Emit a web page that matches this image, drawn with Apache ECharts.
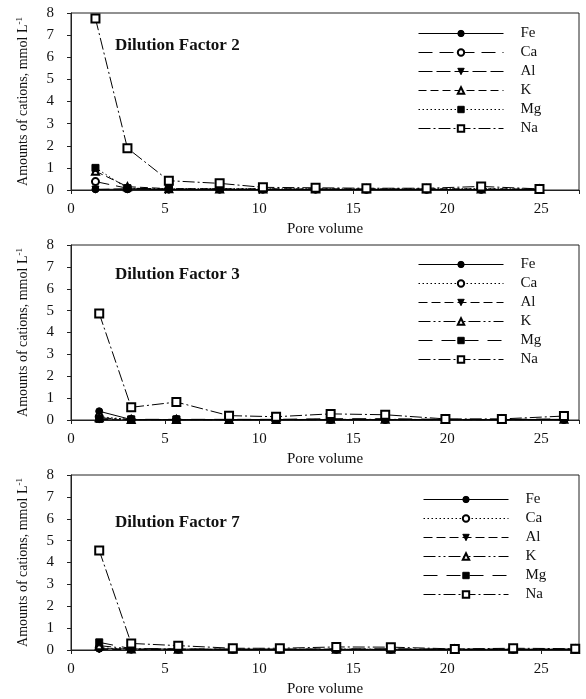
<!DOCTYPE html>
<html>
<head>
<meta charset="utf-8">
<script src="https://cdn.jsdelivr.net/npm/echarts@6/dist/echarts.min.js"></script>
<style>html,body{margin:0;padding:0;background:#fff}#c{width:586px;height:699px}</style>
</head>
<body>
<div id="c"></div>
<script>
// ---- data ----
const cations = ['Fe', 'Ca', 'Al', 'K', 'Mg', 'Na'];
const panelTitles = ['Dilution Factor 2', 'Dilution Factor 3', 'Dilution Factor 7'];
const yTicks = [0, 1, 2, 3, 4, 5, 6, 7, 8];
const xTicks = [0, 5, 10, 15, 20, 25];

const df2X  = [1.3, 3.0, 5.2, 7.9, 10.2, 13.0, 15.7, 18.9, 21.8, 24.9];
const df2Fe = [0.03, 0.03, 0.02, 0.02, 0.02, 0.02, 0.02, 0.02, 0.02, 0.02];
const df2Ca = [0.38, 0.08, 0.05, 0.04, 0.04, 0.04, 0.03, 0.03, 0.03, 0.03];
const df2Al = [0.02, 0.06, 0.03, 0.03, 0.02, 0.02, 0.02, 0.02, 0.02, 0.02];
const df2K  = [0.85, 0.15, 0.06, 0.05, 0.05, 0.05, 0.05, 0.05, 0.05, 0.04];
const df2Mg = [1.00, 0.08, 0.05, 0.06, 0.05, 0.05, 0.04, 0.05, 0.06, 0.04];
const df2Na = [7.75, 1.89, 0.42, 0.30, 0.12, 0.10, 0.08, 0.08, 0.16, 0.05];

const df3X  = [1.5, 3.2, 5.6, 8.4, 10.9, 13.8, 16.7, 19.9, 22.9, 26.2];
const df3Fe = [0.40, 0.02, 0.02, 0.02, 0.02, 0.02, 0.02, 0.02, 0.02, 0.02];
const df3Ca = [0.15, 0.02, 0.02, 0.02, 0.02, 0.02, 0.02, 0.02, 0.02, 0.02];
const df3Al = [0.02, 0.01, 0.01, 0.01, 0.01, 0.01, 0.01, 0.01, 0.01, 0.01];
const df3K  = [0.10, 0.02, 0.02, 0.02, 0.02, 0.03, 0.03, 0.02, 0.02, 0.03];
const df3Mg = [0.05, 0.03, 0.03, 0.03, 0.03, 0.06, 0.06, 0.03, 0.03, 0.05];
const df3Na = [4.87, 0.58, 0.82, 0.20, 0.15, 0.28, 0.24, 0.05, 0.05, 0.18];

const df7X  = [1.5, 3.2, 5.7, 8.6, 11.1, 14.1, 17.0, 20.4, 23.5, 26.8];
const df7Fe = [0.06, 0.05, 0.04, 0.03, 0.03, 0.03, 0.03, 0.03, 0.03, 0.03];
const df7Ca = [0.10, 0.04, 0.03, 0.03, 0.03, 0.03, 0.03, 0.03, 0.03, 0.03];
const df7Al = [0.03, 0.02, 0.02, 0.02, 0.02, 0.02, 0.02, 0.02, 0.02, 0.02];
const df7K  = [0.20, 0.05, 0.04, 0.03, 0.03, 0.04, 0.04, 0.03, 0.03, 0.03];
const df7Mg = [0.35, 0.06, 0.05, 0.04, 0.04, 0.05, 0.05, 0.04, 0.04, 0.04];
const df7Na = [4.55, 0.30, 0.20, 0.08, 0.08, 0.14, 0.13, 0.05, 0.08, 0.06];

const panels = [
  {x: df2X, vals: [df2Fe, df2Ca, df2Al, df2K, df2Mg, df2Na]},
  {x: df3X, vals: [df3Fe, df3Ca, df3Al, df3K, df3Mg, df3Na]},
  {x: df7X, vals: [df7Fe, df7Ca, df7Al, df7K, df7Mg, df7Na]}
];

// ---- styles ----
const symbols = ['circle', 'emptyCircle', 'triangle', 'emptyTriangle', 'rect', 'emptyRect'];
const rotations = [0, 0, 180, 0, 0, 0];
const sizes = [7, 7, 7, 7, 7, 8];
const dashes = [
  ['solid', [14, 7], [14, 4], [8, 4], [1.5, 2.5], [12, 3, 2, 3]],
  ['solid', [1.5, 2.5], [9, 4], [12, 3, 2, 3, 2, 3], [14, 9], [12, 3, 2, 3]],
  ['solid', [1.5, 2.5], [9, 4], [12, 3, 2, 3, 2, 3], [14, 9], [12, 3, 2, 3]]
];
const gridTops = [13, 245, 475];
const gridH = [177, 175, 175];
const legendTops = [19, 250, 485];
const legendLefts = [413, 413, 418];
const titleTops = [32, 261, 509];
const FONT = '"Liberation Serif", "Times New Roman", serif';

const grids = [], xAxes = [], yAxes = [], series = [], legends = [], titles = [];
panels.forEach((p, i) => {
  grids.push({left: 71, right: 7, top: gridTops[i], height: gridH[i], show: true, borderColor: '#222', borderWidth: 1, containLabel: false});
  xAxes.push({
    type: 'value', gridIndex: i, min: 0, max: 27, interval: 5,
    name: 'Pore volume', nameLocation: 'middle', nameGap: 32,
    nameTextStyle: {fontFamily: FONT, fontSize: 15, color: '#111'},
    axisLine: {lineStyle: {color: '#222'}},
    axisTick: {length: 4, lineStyle: {color: '#222'}},
    axisLabel: {fontFamily: FONT, fontSize: 15, color: '#111', margin: 12,
      formatter: v => (xTicks.indexOf(v) >= 0 ? String(v) : '')},
    splitLine: {show: false}
  });
  yAxes.push({
    type: 'value', gridIndex: i, min: 0, max: 8, interval: 1,
    name: 'Amounts of cations, mmol L{sup|-1}', nameLocation: 'middle', nameGap: 40,
    nameTextStyle: {fontFamily: FONT, fontSize: 14, color: '#111',
      rich: {sup: {fontFamily: FONT, fontSize: 9, color: '#111', verticalAlign: 'bottom', padding: [0, 0, 7, 0]}}},
    axisLine: {show: true, lineStyle: {color: '#222'}},
    axisTick: {show: true, length: 4, lineStyle: {color: '#222'}},
    axisLabel: {fontFamily: FONT, fontSize: 15, color: '#111', margin: 17,
      formatter: v => (yTicks.indexOf(v) >= 0 ? String(v) : '')},
    splitLine: {show: false}
  });
  const suffix = ' '.repeat(i);
  const names = [];
  cations.forEach((c, k) => {
    const nm = c + suffix;
    names.push(nm);
    series.push({
      type: 'line', name: nm, xAxisIndex: i, yAxisIndex: i,
      data: p.x.map((xv, j) => [xv, p.vals[k][j]]),
      symbol: symbols[k], symbolRotate: rotations[k], symbolSize: sizes[k],
      color: '#000',
      itemStyle: {color: '#000', borderColor: '#000', borderWidth: 1},
      lineStyle: {color: '#000', width: 1, type: dashes[i][k]},
      animation: false, z: 2 + k
    });
  });
  legends.push({
    data: names, orient: 'vertical', left: legendLefts[i], top: legendTops[i],
    itemWidth: 85, itemHeight: 8, itemGap: 0,
    formatter: n => n.trim(),
    lineStyle: {width: 1},
    itemStyle: {borderWidth: 1},
    textStyle: {fontFamily: FONT, fontSize: 15, color: '#111', lineHeight: 19, padding: [0, 0, 0, 12]},
    selectedMode: false
  });
  titles.push({
    text: panelTitles[i], left: 110, top: titleTops[i],
    textStyle: {fontFamily: FONT, fontSize: 17, fontWeight: 'bold', color: '#111'}
  });
});

const chart = echarts.init(document.getElementById('c'), null, {renderer: 'canvas'});
chart.setOption({
  backgroundColor: '#fff',
  animation: false,
  title: titles,
  legend: legends,
  grid: grids,
  xAxis: xAxes,
  yAxis: yAxes,
  series: series
});
</script>
</body>
</html>
